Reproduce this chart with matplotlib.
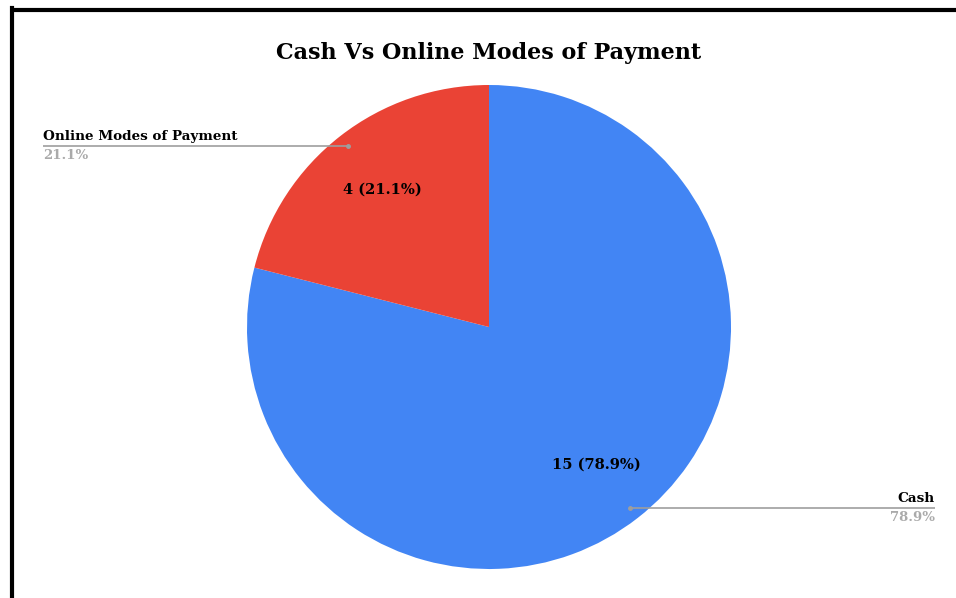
import numpy as np
import matplotlib
matplotlib.use("Agg")
from matplotlib import pyplot as plt
from matplotlib.lines import Line2D

# data
labels = ["Cash", "Online Modes of Payment"]
counts = [15, 4]
colors = ["#4285F4", "#EA4335"]

W, H = 956, 598
plt.rcParams['font.family'] = ['DejaVu Serif']

fig = plt.figure(figsize=(W / 100, H / 100), dpi=100)
ax = fig.add_axes([0, 0, 1, 1])

cx, cy, r = 489, H - 327, 242
total = sum(counts)

wedges, _ = ax.pie(counts, colors=colors, startangle=90, counterclock=False,
                   center=(cx, cy), radius=r, frame=True,
                   wedgeprops=dict(linewidth=0))
ax.set_xlim(0, W)
ax.set_ylim(0, H)
ax.set_aspect("equal")
ax.axis("off")

label_x = {"Cash": 935, "Online Modes of Payment": 43}
for w, lab, n in zip(wedges, labels, counts):
    mid = np.deg2rad((w.theta1 + w.theta2) / 2)
    pct = 100 * n / total
    # value label inside the slice
    ax.text(cx + 0.72 * r * np.cos(mid), cy + 0.72 * r * np.sin(mid),
            f"{n} ({pct:.1f}%)", ha="center", va="center",
            fontsize=10.5, fontweight="bold", color="black")
    # leader line + outside label
    px, py = cx + 0.95 * r * np.cos(mid), cy + 0.95 * r * np.sin(mid)
    lx = label_x[lab]
    ax.plot([px, lx], [py, py], color="#9e9e9e", lw=1.2, solid_capstyle="butt")
    ax.plot([px], [py], "o", color="#9e9e9e", ms=2.5)
    ha = "left" if lx < px else "right"
    ax.text(lx, py + 3, lab, ha=ha, va="bottom", fontsize=9.7,
            fontweight="bold", color="black")
    ax.text(lx, py - 3, f"{pct:.1f}%", ha=ha, va="top", fontsize=9.5,
            fontweight="bold", color="#aaaaaa")

ax.text(489, H - 53, "Cash Vs Online Modes of Payment", ha="center", va="center",
        fontsize=16, fontweight="bold", color="black")

# black frame, only left and top edges are in view
fig.add_artist(Line2D([12 / W, 12 / W], [0, 1 - 8 / H], transform=fig.transFigure,
                      color="black", lw=3, solid_capstyle="projecting"))
fig.add_artist(Line2D([12 / W, 1], [1 - 10 / H, 1 - 10 / H], transform=fig.transFigure,
                      color="black", lw=3, solid_capstyle="butt"))

fig.savefig("out.png", dpi=100, facecolor="white")
